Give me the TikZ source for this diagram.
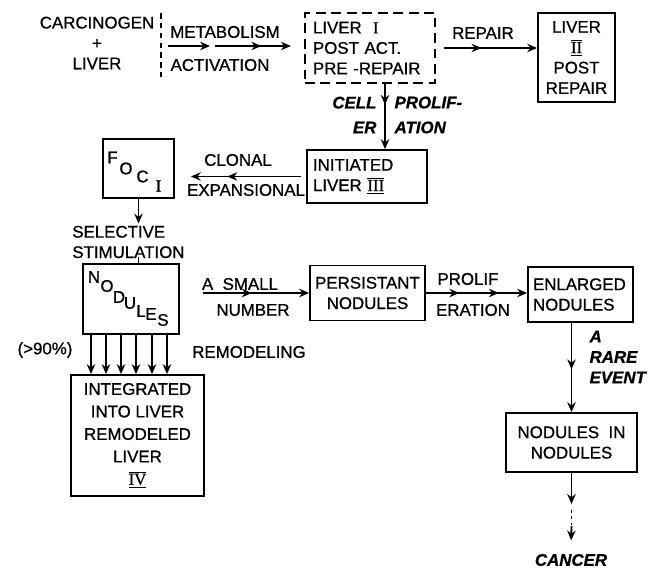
\documentclass[tikz,border=0pt]{standalone}
\usepackage{fontspec}
\setmainfont{Liberation Sans}[FakeBold=0.8]
\newfontfamily\romfont{Liberation Serif}[FakeBold=0.8]
\usetikzlibrary{positioning, arrows.meta, calc, decorations.markings}
\newcommand{\rnum}[1]{$\overline{\underline{\hbox{\romfont #1}}}$}

\begin{document}
\begin{tikzpicture}[x=0.025cm, y=-0.025cm, line width=1.3pt,
        font=\fontsize{12}{14.5}\selectfont,
        box/.style={draw, inner sep=2pt, align=center},
        arr/.style={-{Stealth[length=7pt,width=6pt]}},
        midarr/.style={postaction={decorate, decoration={markings,
            mark=at position #1 with {\arrow{Stealth[length=7pt,width=6pt]}}}}},
        slant/.style={font=\fontsize{12}{14.5}\selectfont\bfseries\itshape}]
    \useasboundingbox (0,0) rectangle (651,569);

    % top row
    \node[align=center] (carc) at (97,43) {CARCINOGEN\\+\\LIVER};
    \coordinate (cutT) at (161,13);
    \coordinate (cutB) at (161,77);
    \draw[dash pattern=on 4pt off 3pt] (cutT) -- (cutB);
    \node (metab) at (225,32) {METABOLISM};
    \node (activ) at (220,65) {ACTIVATION};
    \node[box, dashed, dash pattern=on 7pt off 4pt, align=left, text width=2.85cm,
          minimum width=3.25cm, minimum height=1.75cm] (liverI) at (370,48)
          {LIVER \ {\romfont I}\\POST ACT.\\PRE -REPAIR};
    \coordinate (m1) at (168,46);
    \coordinate (m2) at (210,46);
    \coordinate (m3) at (215,46);
    \draw[arr] (m1) -- (m2);
    \draw[arr, midarr=0.52, shorten >=0.33cm] (m3) -- (m3 -| liverI.west);

    \node[box, minimum width=1.925cm, minimum height=2.225cm] (liverII) at (576.5,57.5)
          {LIVER\\\rnum{II}\\POST\\REPAIR};
    \node (repair) at (483,33) {REPAIR};
    \draw[arr, midarr=0.45, shorten <=0.2cm] (liverI.east) -- (liverI.east -| liverII.west);

    % cell proliferation
    \node[box, align=left, text width=2.7cm, minimum width=3cm, minimum height=1.325cm]
          (init) at (367,176.5) {INITIATED\\LIVER \rnum{III}};
    \coordinate (cellTop) at ($(liverI.south)+(15,0)$);
    \draw[arr, midarr=0.32] (cellTop) -- (cellTop |- init.north);
    \node[slant, font=\fontsize{12}{17.7}\selectfont\bfseries\itshape, anchor=east, align=right]
          (cellL) at (382,115) {CELL\\ER};
    \node[slant, font=\fontsize{12}{17.7}\selectfont\bfseries\itshape, anchor=west, align=left]
          (cellR) at (389,115) {PROLIF-\\ATION};

    % foci
    \node[box, minimum width=1.775cm, minimum height=1.475cm] (foci) at (138.5,168.5) {};
    \node (fF) at (112.5,157.5) {F};
    \node (fO) at (126,168.5) {O};
    \node (fC) at (142.5,176.5) {C};
    \node (fI) at (158.5,186) {\romfont I};
    \node (clonal) at (238,160) {CLONAL};
    \node (expans) at (246,190) {EXPANSIONAL};
    \draw[arr, midarr=0.6, shorten <=0.12cm, shorten >=0.4cm] (init.west) -- (init.west -| foci.east);

    \node[anchor=west, align=left, inner sep=1pt] (sel) at (70,242) {SELECTIVE\\STIMULATION};
    \draw[arr] (foci.south) -- (foci.south |- sel.north);

    % nodules
    \node[box, minimum width=2.4cm, minimum height=1.75cm] (nod) at (131,299) {};
    \draw (nod.north -| foci.south) -- ++(0,-6);
    \node (nN) at (94,277) {N};
    \node (nO) at (107,286) {O};
    \node (nD) at (119,297) {D};
    \node (nU) at (130,303) {U};
    \node (nL) at (141,311) {L};
    \node (nE) at (151,314) {E};
    \node (nS) at (163,320) {S};

    \node[box, font=\fontsize{12}{16}\selectfont, minimum width=3.325cm, minimum height=3.025cm]
          (integ) at (137.5,435.5) {INTEGRATED\\INTO LIVER\\REMODELED\\LIVER\\\rnum{IV}};
    \node (pct) at (45,350) {(>90\%)};
    \node (remod) at (249,352) {REMODELING};
    \foreach \dx [count=\i] in {-40,-25,-10,5,21,36} {
        \coordinate (nb\i) at ($(nod.south)+(\dx,0)$);
        \draw[arr] (nb\i) -- (nb\i |- integ.north);
    }

    % persistant and enlarged nodules
    \node[box, minimum width=2.875cm, minimum height=1.375cm] (persist) at (367.5,293)
          {PERSISTANT\\NODULES};
    \node (small) at (240,284) {A \ SMALL};
    \node (number) at (253,310) {NUMBER};
    \coordinate (smS) at (203,293);
    \draw[arr, midarr=0.46] (smS) -- (smS -| persist.west);

    \node[box, align=left, text width=2.375cm, minimum width=2.625cm, minimum height=1.375cm]
          (enl) at (580.5,294.5) {ENLARGED\\NODULES};
    \node (prolif) at (468,279) {PROLIF};
    \node (eration) at (473,310) {ERATION};
    \draw[arr, midarr=0.33, midarr=0.72] (persist.east) -- (persist.east -| enl.west);

    % rare event
    \node[box, minimum width=3.275cm, minimum height=1.475cm] (nin) at (571.5,442.5)
          {NODULES\ \ IN\\NODULES};
    \draw[arr, midarr=0.52] (enl.south -| nin.north) -- (nin.north);
    \node[slant, anchor=west, align=left] (rare) at (584,357) {A\\RARE\\EVENT};

    \node[slant] (cancer) at (571,560) {CANCER};
    \draw[arr] (nin.south) -- ++(0,31);
    \draw[dash pattern=on 2pt off 2.5pt] ($(nin.south)+(0,37)$) -- ++(0,16);
    \draw[arr, shorten >=0.2cm] ($(nin.south)+(0,53)$) -- (cancer.north);
\end{tikzpicture}
\end{document}
